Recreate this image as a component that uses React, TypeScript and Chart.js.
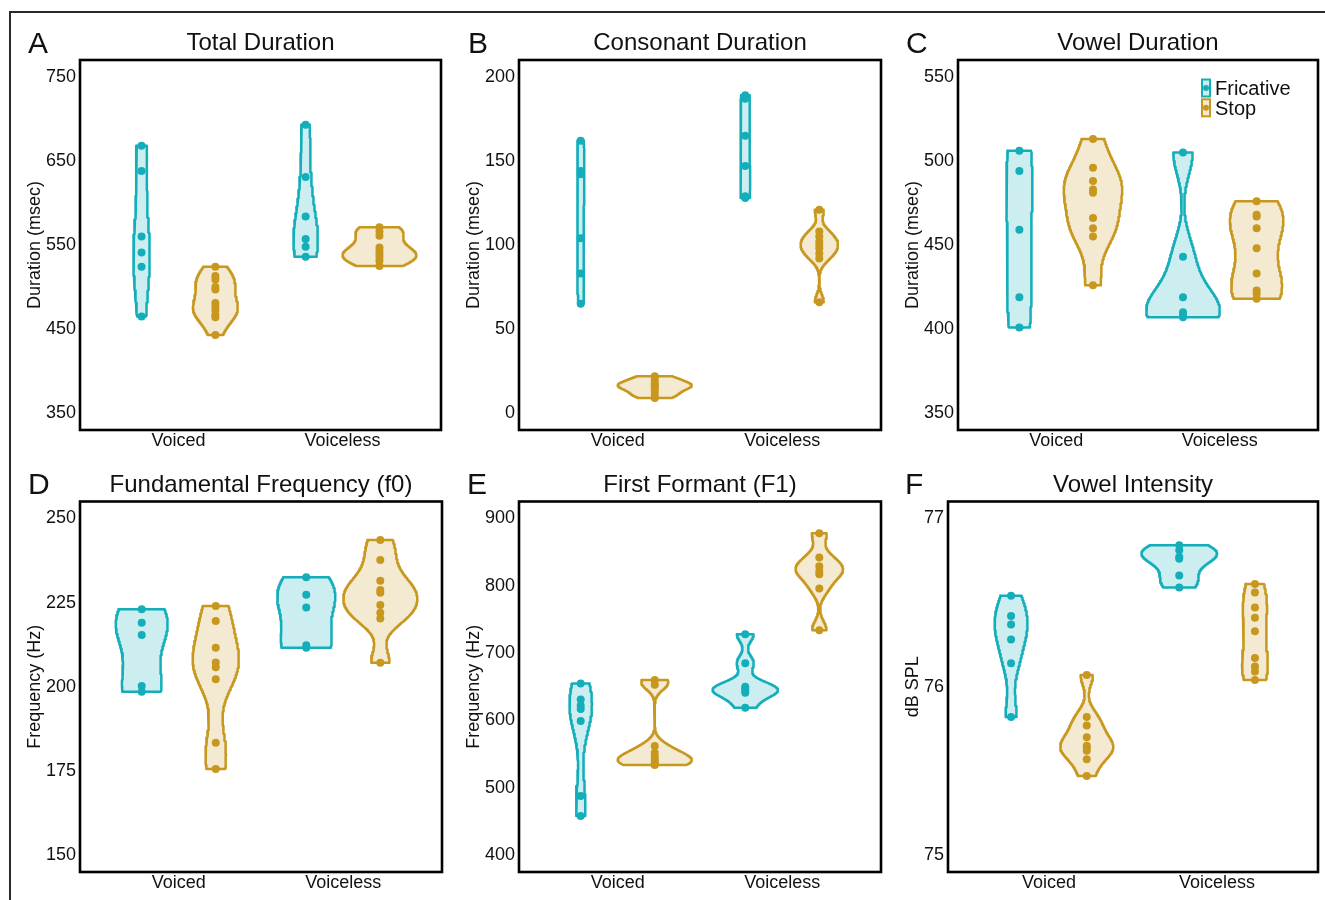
import React, { useEffect, useRef } from "react";
import { Chart, registerables } from "chart.js";

Chart.register(...registerables);

const FONT = "'Liberation Sans', Arial, Helvetica, sans-serif";
Chart.defaults.font.family = FONT;

// ---------- data ----------
const CATEGORIES = ["Voiced", "Voiceless"];
const GROUPS = ["Fricative", "Stop"];

// A: Total Duration (msec)
const totalFricVoiced = [668, 638, 560, 541, 524, 465];
const totalFricVoiceless = [693, 631, 584, 557, 548, 536];
const totalStopVoiced = [524, 513, 509, 500, 497, 481, 477, 472, 467, 464, 443];
const totalStopVoiceless = [571, 566, 561, 547, 543, 539, 535, 531, 525];
const TICKS_A = [350, 450, 550, 650, 750];

// B: Consonant Duration (msec)
const consFricVoiced = [162, 144, 142, 104, 83, 65];
const consFricVoiceless = [189, 187, 165, 147, 129, 128];
const consStopVoiced = [22, 20, 18, 17, 16, 15, 13, 11, 9];
const consStopVoiceless = [121, 108, 105, 102, 100, 98, 95, 92, 66];
const TICKS_B = [0, 50, 100, 150, 200];

// C: Vowel Duration (msec)
const vowFricVoiced = [506, 494, 459, 419, 401];
const vowFricVoiceless = [505, 443, 419, 410, 408, 407];
const vowStopVoiced = [513, 496, 488, 483, 481, 466, 460, 455, 426];
const vowStopVoiceless = [476, 468, 467, 460, 448, 433, 423, 421, 418];
const TICKS_C = [350, 400, 450, 500, 550];

// D: Fundamental Frequency (Hz)
const f0FricVoiced = [223, 219, 215.4, 200.2, 198.5];
const f0FricVoiceless = [232.5, 227.3, 223.5, 212.3, 211.6];
const f0StopVoiced = [224, 219.5, 211.6, 207.2, 205.8, 202.2, 183.4, 175.6];
const f0StopVoiceless = [243.6, 237.6, 231.5, 228.7, 227.9, 224.3, 222, 220.3, 207.1];
const TICKS_D = [150, 175, 200, 225, 250];

// E: First Formant (Hz)
const f1FricVoiced = [655, 631, 622, 617, 599, 488, 458];
const f1FricVoiceless = [728, 685, 650, 647, 644, 641, 619];
const f1StopVoiced = [660, 653, 562, 552, 546, 542, 538, 535, 534];
const f1StopVoiceless = [878, 842, 829, 822, 817, 796, 734];
const TICKS_E = [400, 500, 600, 700, 800, 900];

// F: Vowel Intensity (dB SPL)
const intFricVoiced = [76.54, 76.42, 76.37, 76.28, 76.14, 75.82];
const intFricVoiceless = [76.84, 76.81, 76.77, 76.76, 76.66, 76.59];
const intStopVoiced = [76.07, 75.82, 75.77, 75.7, 75.65, 75.64, 75.62, 75.57, 75.47];
const intStopVoiceless = [76.61, 76.56, 76.47, 76.41, 76.33, 76.17, 76.12, 76.09, 76.04];
const TICKS_F = [75, 76, 77];

// ---------- styles ----------
const TEAL = "#14AEBA";
const GOLD = "#C8981E";
const TEAL_FILL = "rgba(20,174,186,0.21)";
const GOLD_FILL = "rgba(200,152,30,0.2)";
const INK = "#111111";

type Panel = {
  letter: string;
  title: string;
  yTitle: string;
  yMin: number;
  yMax: number;
  ticks: number[];
  fric: number[][];
  stop: number[][];
  L: number;
  T: number;
  W: number;
  H: number;
  box: [number, number, number, number];
  letterX: number;
  yTitlePad: number;
  legend?: boolean;
};

const ROW1 = { T: 14, H: 442, y0: 60, y1: 430 };
const ROW2 = { T: 458, H: 442, y0: 501.5, y1: 872 };

const PANELS: Panel[] = [
  {
    letter: "A", title: "Total Duration", yTitle: "Duration (msec)",
    yMin: 330, yMax: 770, ticks: TICKS_A,
    fric: [totalFricVoiced, totalFricVoiceless], stop: [totalStopVoiced, totalStopVoiceless],
    L: 12, T: ROW1.T, W: 440, H: ROW1.H, box: [80, ROW1.y0, 441, ROW1.y1], letterX: 28, yTitlePad: 12.2,
  },
  {
    letter: "B", title: "Consonant Duration", yTitle: "Duration (msec)",
    yMin: -10, yMax: 210, ticks: TICKS_B,
    fric: [consFricVoiced, consFricVoiceless], stop: [consStopVoiced, consStopVoiceless],
    L: 455, T: ROW1.T, W: 437, H: ROW1.H, box: [519, ROW1.y0, 881, ROW1.y1], letterX: 468, yTitlePad: 8.5,
  },
  {
    letter: "C", title: "Vowel Duration", yTitle: "Duration (msec)",
    yMin: 340, yMax: 560, ticks: TICKS_C,
    fric: [vowFricVoiced, vowFricVoiceless], stop: [vowStopVoiced, vowStopVoiceless],
    L: 895, T: ROW1.T, W: 430, H: ROW1.H, box: [958, ROW1.y0, 1318, ROW1.y1], letterX: 906, yTitlePad: 7.2,
    legend: true,
  },
  {
    letter: "D", title: "Fundamental Frequency (f0)", yTitle: "Frequency (Hz)",
    yMin: 145, yMax: 255, ticks: TICKS_D,
    fric: [f0FricVoiced, f0FricVoiceless], stop: [f0StopVoiced, f0StopVoiceless],
    L: 12, T: ROW2.T, W: 440, H: ROW2.H, box: [80, ROW2.y0, 442, ROW2.y1], letterX: 28, yTitlePad: 12.2,
  },
  {
    letter: "E", title: "First Formant (F1)", yTitle: "Frequency (Hz)",
    yMin: 375, yMax: 925, ticks: TICKS_E,
    fric: [f1FricVoiced, f1FricVoiceless], stop: [f1StopVoiced, f1StopVoiceless],
    L: 455, T: ROW2.T, W: 437, H: ROW2.H, box: [519, ROW2.y0, 881, ROW2.y1], letterX: 467, yTitlePad: 8.5,
  },
  {
    letter: "F", title: "Vowel Intensity", yTitle: "dB SPL",
    yMin: 74.9, yMax: 77.1, ticks: TICKS_F,
    fric: [intFricVoiced, intFricVoiceless], stop: [intStopVoiced, intStopVoiceless],
    L: 895, T: ROW2.T, W: 430, H: ROW2.H, box: [948, ROW2.y0, 1318, ROW2.y1], letterX: 905, yTitlePad: 7.2,
  },
];

// ---------- kernel density (as ggplot2 geom_violin: gaussian, bw.nrd0, trimmed, scale="area") ----------
function bwNrd0(v: number[]): number {
  const n = v.length;
  const mean = v.reduce((s, x) => s + x, 0) / n;
  const sd = Math.sqrt(v.reduce((s, x) => s + (x - mean) * (x - mean), 0) / (n - 1));
  const s = [...v].sort((a, b) => a - b);
  const q = (p: number) => {
    const h = (n - 1) * p;
    const lo = Math.floor(h);
    const hi = Math.min(lo + 1, n - 1);
    return s[lo] + (h - lo) * (s[hi] - s[lo]);
  };
  const iqr = q(0.75) - q(0.25);
  let lo = Math.min(sd, iqr / 1.34);
  if (!(lo > 0)) lo = sd || Math.abs(s[0]) || 1;
  return 0.9 * lo * Math.pow(n, -0.2);
}

function densityAt(v: number[], bw: number, y: number): number {
  let sum = 0;
  for (const x of v) {
    const z = (y - x) / bw;
    sum += Math.exp(-0.5 * z * z);
  }
  return sum / (v.length * bw * Math.sqrt(2 * Math.PI));
}

const GRID_N = 256;
const DODGE = 0.225;

function buildConfig(p: Panel): any {
  const groups = [
    { vals: p.fric[0], xc: 1 - DODGE, line: TEAL, fill: TEAL_FILL, name: GROUPS[0] },
    { vals: p.stop[0], xc: 1 + DODGE, line: GOLD, fill: GOLD_FILL, name: GROUPS[1] },
    { vals: p.fric[1], xc: 2 - DODGE, line: TEAL, fill: TEAL_FILL, name: GROUPS[0] },
    { vals: p.stop[1], xc: 2 + DODGE, line: GOLD, fill: GOLD_FILL, name: GROUPS[1] },
  ];
  const profiles = groups.map((g) => {
    const bw = bwNrd0(g.vals);
    const lo = Math.min(...g.vals);
    const hi = Math.max(...g.vals);
    const ys: number[] = [];
    const ds: number[] = [];
    for (let i = 0; i < GRID_N; i++) {
      const y = lo + ((hi - lo) * i) / (GRID_N - 1);
      ys.push(y);
      ds.push(densityAt(g.vals, bw, y));
    }
    return { ys, ds };
  });
  const maxD = Math.max(...profiles.map((pr) => Math.max(...pr.ds)));

  const datasets: any[] = [];
  groups.forEach((g) => {
    datasets.push({
      type: "scatter",
      label: g.name + " points",
      data: g.vals.map((v) => ({ x: g.xc, y: v })),
      pointRadius: 4,
      pointHoverRadius: 4,
      backgroundColor: g.line,
      borderWidth: 0,
      order: 1,
    });
  });
  groups.forEach((g, gi) => {
    const { ys, ds } = profiles[gi];
    const right = ys.map((y, i) => ({ x: g.xc + (ds[i] / maxD) * DODGE, y }));
    const left = ys.map((y, i) => ({ x: g.xc - (ds[i] / maxD) * DODGE, y })).reverse();
    const outline = [...right, ...left, right[0]];
    datasets.push({
      type: "scatter",
      label: g.name + " violin",
      data: outline,
      showLine: true,
      fill: "shape",
      backgroundColor: g.fill,
      borderColor: g.line,
      borderWidth: 2.5,
      borderJoinStyle: "round",
      borderCapStyle: "round",
      pointRadius: 0,
      pointHoverRadius: 0,
      tension: 0,
      order: 2,
    });
  });

  const [x0, y0, x1, y1] = p.box;
  const X_AXIS_H = 24;
  const yW = x0 - p.L;
  const padTop = y0 - p.T;
  const padRight = p.L + p.W - x1;
  const padBottom = p.T + p.H - y1 - X_AXIS_H;

  return {
    type: "scatter",
    data: { datasets },
    plugins: [decorPlugin],
    options: {
      responsive: false,
      animation: false,
      events: [],
      layout: { padding: { left: 0, top: padTop, right: padRight, bottom: padBottom } },
      plugins: {
        legend: { display: false },
        tooltip: { enabled: false },
        decor: {
          title: p.title,
          letter: p.letter,
          letterX: p.letterX - p.L,
          legend: !!p.legend,
          canvasL: p.L,
          canvasT: p.T,
        },
      },
      scales: {
        x: {
          type: "linear",
          min: 0.4,
          max: 2.6,
          grid: { display: false, drawTicks: false },
          border: { display: false },
          afterBuildTicks: (s: any) => {
            s.ticks = CATEGORIES.map((_, i) => ({ value: i + 1 }));
          },
          afterFit: (s: any) => {
            s.height = X_AXIS_H;
          },
          ticks: {
            autoSkip: false,
            maxRotation: 0,
            padding: 0,
            color: INK,
            font: { size: 18, family: FONT },
            callback: (v: any) => CATEGORIES[Math.round(Number(v)) - 1] ?? "",
          },
        },
        y: {
          type: "linear",
          min: p.yMin,
          max: p.yMax,
          grid: { display: false, drawTicks: false },
          border: { display: false },
          afterBuildTicks: (s: any) => {
            s.ticks = p.ticks.map((v) => ({ value: v }));
          },
          afterFit: (s: any) => {
            s.width = yW;
          },
          ticks: {
            padding: 4,
            color: INK,
            font: { size: 18, family: FONT },
            callback: (v: any) => String(v),
          },
          title: {
            display: true,
            text: p.yTitle,
            color: INK,
            font: { size: 18, family: FONT },
            padding: { top: p.yTitlePad, bottom: 0 },
          },
        },
      },
    },
  };
}

const decorPlugin = {
  id: "decor",
  afterDraw(chart: any, _args: any, opts: any) {
    const { ctx, chartArea: a } = chart;
    ctx.save();
    // panel border
    ctx.strokeStyle = "#000";
    ctx.lineWidth = 2.6;
    ctx.strokeRect(a.left, a.top, a.right - a.left, a.bottom - a.top);
    // title
    ctx.fillStyle = INK;
    ctx.textBaseline = "alphabetic";
    ctx.textAlign = "center";
    ctx.font = `24px ${FONT}`;
    ctx.fillText(opts.title, (a.left + a.right) / 2, a.top - 10);
    // panel letter
    ctx.textAlign = "left";
    ctx.font = `30px ${FONT}`;
    ctx.fillText(opts.letter, opts.letterX, a.top - 7.5);
    // legend (panel C)
    if (opts.legend) {
      const entries = [
        { name: GROUPS[0], line: TEAL, fill: TEAL_FILL },
        { name: GROUPS[1], line: GOLD, fill: GOLD_FILL },
      ];
      const kx = 1202 - opts.canvasL;
      const ky = 79.5 - opts.canvasT;
      const kw = 8;
      const kh = 17;
      entries.forEach((e, i) => {
        const y = ky + i * 19.8;
        ctx.fillStyle = "#fff";
        ctx.fillRect(kx, y, kw, kh);
        ctx.fillStyle = e.fill;
        ctx.fillRect(kx, y, kw, kh);
        ctx.strokeStyle = e.line;
        ctx.lineWidth = 2;
        ctx.strokeRect(kx, y, kw, kh);
        ctx.fillStyle = e.line;
        ctx.beginPath();
        ctx.arc(kx + kw / 2, y + kh / 2, 3, 0, Math.PI * 2);
        ctx.fill();
        ctx.fillStyle = INK;
        ctx.font = `20px ${FONT}`;
        ctx.textAlign = "left";
        ctx.fillText(e.name, 1215 - opts.canvasL, y + 15.5);
      });
    }
    ctx.restore();
  },
};

function PanelChart({ p }: { p: Panel }) {
  const ref = useRef<HTMLCanvasElement>(null);
  useEffect(() => {
    if (!ref.current) return;
    const chart = new Chart(ref.current, buildConfig(p));
    return () => chart.destroy();
  }, [p]);
  return (
    <canvas
      ref={ref}
      width={p.W}
      height={p.H}
      style={{ position: "absolute", left: p.L, top: p.T, width: p.W, height: p.H }}
    />
  );
}

export default function App() {
  return (
    <div
      style={{
        position: "absolute",
        left: 0,
        top: 0,
        width: 1325,
        height: 900,
        background: "#fff",
        overflow: "hidden",
      }}
    >
      <div
        style={{
          position: "absolute",
          left: 9,
          top: 11,
          width: 1325 - 9,
          height: 900 - 11,
          borderTop: "2px solid #2a2a2a",
          borderLeft: "2px solid #2a2a2a",
          boxSizing: "border-box",
        }}
      />
      {PANELS.map((p) => (
        <PanelChart key={p.letter} p={p} />
      ))}
    </div>
  );
}
